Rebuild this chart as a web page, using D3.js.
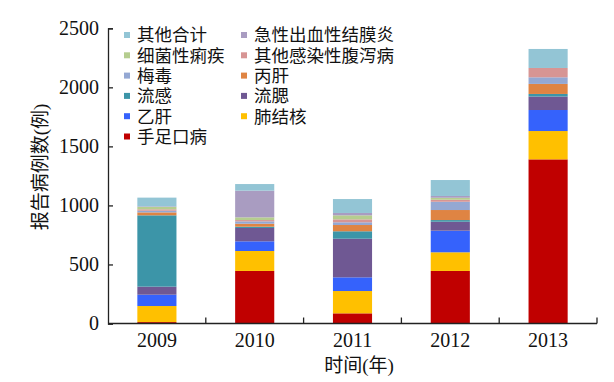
<!DOCTYPE html>
<html><head><meta charset="utf-8">
<script src="https://cdn.jsdelivr.net/npm/d3@7"></script>
<style>
body{margin:0;background:#fff;}
text{font-family:"Liberation Serif","Noto Sans CJK SC",serif;fill:#111;}
</style></head>
<body><svg id="c" width="614" height="382"></svg>
<script>
const years = ["2009","2010","2011","2012","2013"];
const keys = ["手足口病","肺结核","乙肝","流腮","流感","丙肝","梅毒","其他感染性腹泻病","细菌性痢疾","急性出血性结膜炎","其他合计"];
const hfmd      = [12, 445, 86, 445, 1390];
const tb        = [136, 169, 189, 158, 240];
const hepB      = [96, 82, 116, 183, 178];
const mumps     = [68, 113, 327, 76, 114];
const flu       = [604, 11, 63, 14, 22];
const hepC      = [25, 25, 53, 85, 85];
const syphilis  = [14, 20, 23, 70, 56];
const diarrhea  = [12, 11, 25, 17, 79];
const dysentery = [20, 23, 34, 17, 0];
const conjunct  = [5, 226, 20, 15, 0];
const others    = [74, 56, 118, 135, 161];
const seriesVals = [hfmd, tb, hepB, mumps, flu, hepC, syphilis, diarrhea, dysentery, conjunct, others];
const colors = ["#C00000","#FFC000","#3562FC","#6F5893","#3C95A8","#DF8443","#94A8D3","#D79594","#B5CD8F","#A99CC1","#93C5D5"];
const yTicks = [0,500,1000,1500,2000,2500];
const legendCol1 = ["其他合计","细菌性痢疾","梅毒","流感","乙肝","手足口病"];
const legendCol2 = ["急性出血性结膜炎","其他感染性腹泻病","丙肝","流腮","肺结核"];

const rows = years.map((y,i)=>{const o={year:y}; keys.forEach((k,j)=>o[k]=seriesVals[j][i]); return o;});
const stack = d3.stack().keys(keys)(rows);
const color = d3.scaleOrdinal().domain(keys).range(colors);

const svg = d3.select("#c");
const x0=108, x1=597, yTop=28.3, yBot=323.5;
const x = d3.scaleBand().domain(years).range([x0,x1]).paddingInner(0.6).paddingOuter(0.3);
const y = d3.scaleLinear().domain([0,2500]).range([yBot,yTop]);

svg.append("g").selectAll("g").data(stack).join("g").attr("fill",d=>color(d.key))
  .selectAll("rect").data(d=>d).join("rect")
  .attr("x",d=>x(d.data.year)).attr("width",x.bandwidth())
  .attr("y",d=>y(d[1])).attr("height",d=>Math.max(0,y(d[0])-y(d[1])));

// y axis
const ya = svg.append("g").attr("transform",`translate(${x0},0)`)
  .call(d3.axisLeft(y).tickValues(yTicks).tickSize(-5).tickPadding(9).tickFormat(d3.format("d")));
ya.select(".domain").attr("stroke","#222").attr("stroke-width",1.3);
ya.selectAll(".tick line").attr("stroke","#222").attr("stroke-width",1.3);
ya.selectAll(".tick text").style("font-size","20px").attr("fill","#111");

// x axis
const xa = svg.append("g").attr("transform",`translate(0,${yBot})`)
  .call(d3.axisBottom(x).tickSize(0).tickPadding(9));
xa.select(".domain").attr("d",`M${x0},0H${x1}`).attr("stroke","#222").attr("stroke-width",1.3);
xa.selectAll(".tick text").style("font-size","20px").attr("fill","#111");
const bounds = years.slice(1).map(v=>x(v)-x.step()*x.paddingInner()/2).concat([x1]);
xa.selectAll(".bt").data(bounds).join("line").attr("class","bt")
  .attr("x1",d=>d).attr("x2",d=>d).attr("y1",0).attr("y2",-6).attr("stroke","#222").attr("stroke-width",1.3);

// titles
svg.append("text").attr("x",359).attr("y",372).attr("text-anchor","middle").style("font-size","19px").text("时间(年)");
svg.append("text").attr("transform","translate(47,167) rotate(-90)").attr("text-anchor","middle").style("font-size","19px").text("报告病例数(例)");

// legend
const lg = svg.append("g");
function col(items, sx, tx){
  items.forEach((k,i)=>{
    const cy = 35 + i*20.3;
    lg.append("rect").attr("x",sx).attr("y",cy-3).attr("width",6).attr("height",6).attr("fill",color(k));
    lg.append("text").attr("x",tx).attr("y",cy).attr("dy","0.36em").style("font-size","17.5px").text(k);
  });
}
col(legendCol1,124,137);
col(legendCol2,241,254);
</script></body></html>
